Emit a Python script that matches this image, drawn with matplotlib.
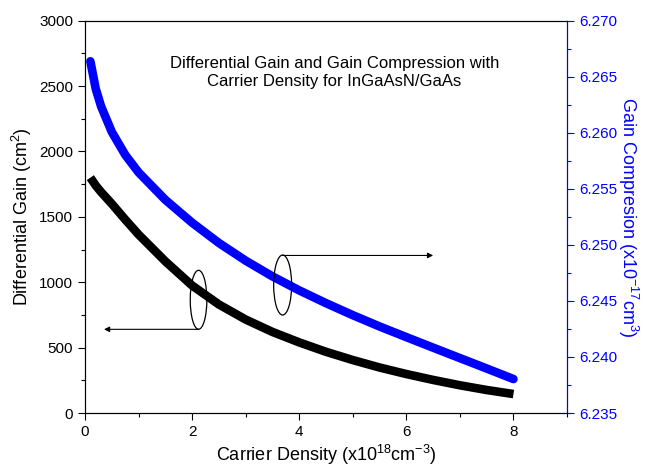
import matplotlib
matplotlib.use('Agg')
import matplotlib.pyplot as plt
from matplotlib.patches import Ellipse
from matplotlib.ticker import MultipleLocator, FormatStrFormatter

plt.rcParams['font.family'] = ['Liberation Sans', 'DejaVu Sans']
plt.rcParams['mathtext.default'] = 'regular'

# ── data ─────────────────────────────────────────────────────
# carrier density (x10^18 cm^-3)
dens_gain = [0.1, 0.2, 0.3, 0.5, 0.75, 1.0, 1.5, 2.0, 2.5, 3.0, 3.5, 4.0,
             4.5, 5.0, 5.5, 6.0, 6.5, 7.0, 7.5, 8.0]
# differential gain (cm^2)
diff_gain = [1800, 1740, 1690, 1600, 1480, 1365, 1160, 975, 830, 715, 620, 540,
             468, 405, 348, 298, 253, 212, 176, 145]

dens_comp = [0.1, 0.2, 0.3, 0.5, 0.75, 1.0, 1.5, 2.0, 2.5, 3.0, 3.5, 4.0,
             4.5, 5.0, 5.5, 6.0, 6.5, 7.0, 7.5, 8.0]
# gain compression (x10^-17 cm^3)
gain_comp = [6.26638, 6.26393, 6.26236, 6.26008, 6.25804, 6.25647, 6.25402,
             6.25198, 6.25017, 6.24859, 6.24719, 6.24594, 6.24480, 6.24373,
             6.24272, 6.24177, 6.24083, 6.23990, 6.23897, 6.23803]

BLUE = '#0000FF'

fig = plt.figure(figsize=(6.47, 4.67), dpi=100)
ax = fig.add_axes([0.1314, 0.1156, 0.745, 0.84])
ax2 = ax.twinx()

ax.plot(dens_gain, diff_gain, color='black', lw=6.2, solid_capstyle='butt',
        solid_joinstyle='round')
ax2.plot(dens_comp, gain_comp, color=BLUE, lw=6.2, solid_capstyle='round',
         solid_joinstyle='round')

# axes limits / ticks
ax.set_xlim(0, 9)
ax.set_ylim(0, 3000)
ax.xaxis.set_major_locator(MultipleLocator(2))
ax.xaxis.set_minor_locator(MultipleLocator(1))
ax.yaxis.set_major_locator(MultipleLocator(500))
ax.yaxis.set_minor_locator(MultipleLocator(250))

ax2.set_ylim(6.235, 6.270)
ax2.yaxis.set_major_locator(MultipleLocator(0.005))
ax2.yaxis.set_minor_locator(MultipleLocator(0.0025))
ax2.yaxis.set_major_formatter(FormatStrFormatter('%.3f'))

for a in (ax, ax2):
    a.tick_params(which='major', direction='out', length=5, width=0.8, labelsize=11)
    a.tick_params(which='minor', direction='out', length=3, width=0.8)
    for s in a.spines.values():
        s.set_linewidth(0.8)

ax.tick_params(axis='x', which='both', top=False)
ax2.tick_params(axis='y', which='both', colors=BLUE)
ax2.spines['right'].set_color(BLUE)

ax.set_xlabel('Carrier Density (x10$^{18}$cm$^{-3}$)', fontsize=13, labelpad=3)
ax.set_ylabel('Differential Gain (cm$^{2}$)', fontsize=13, labelpad=4)
ax2.set_ylabel('Gain Compresion (x10$^{-17}$cm$^{3}$)', fontsize=13,
               color=BLUE, rotation=270, labelpad=17)

ax.text(4.66, 2604, 'Differential Gain and Gain Compression with\n'
        'Carrier Density for InGaAsN/GaAs', ha='center', va='center',
        fontsize=12, linespacing=1.3)

# ── ellipse + arrow markers pointing to the matching axis ───
tr = ax.transData
ax2.add_patch(Ellipse((2.12, 866), 0.31, 451, fill=False, ec='black',
                      lw=0.9, transform=tr, zorder=5))
ax2.annotate('', xy=(0.354, 640), xytext=(2.12, 640),
             xycoords=tr, textcoords=tr,
             arrowprops=dict(arrowstyle='-|>', color='black', lw=0.8,
                             mutation_scale=8, shrinkA=0, shrinkB=0))

ax2.add_patch(Ellipse((3.69, 979), 0.335, 459, fill=False, ec='black',
                      lw=0.9, transform=tr, zorder=5))
ax2.annotate('', xy=(6.50, 1205), xytext=(3.69, 1205),
             xycoords=tr, textcoords=tr,
             arrowprops=dict(arrowstyle='-|>', color='black', lw=0.8,
                             mutation_scale=8, shrinkA=0, shrinkB=0))

fig.savefig('out.png', dpi=100)
